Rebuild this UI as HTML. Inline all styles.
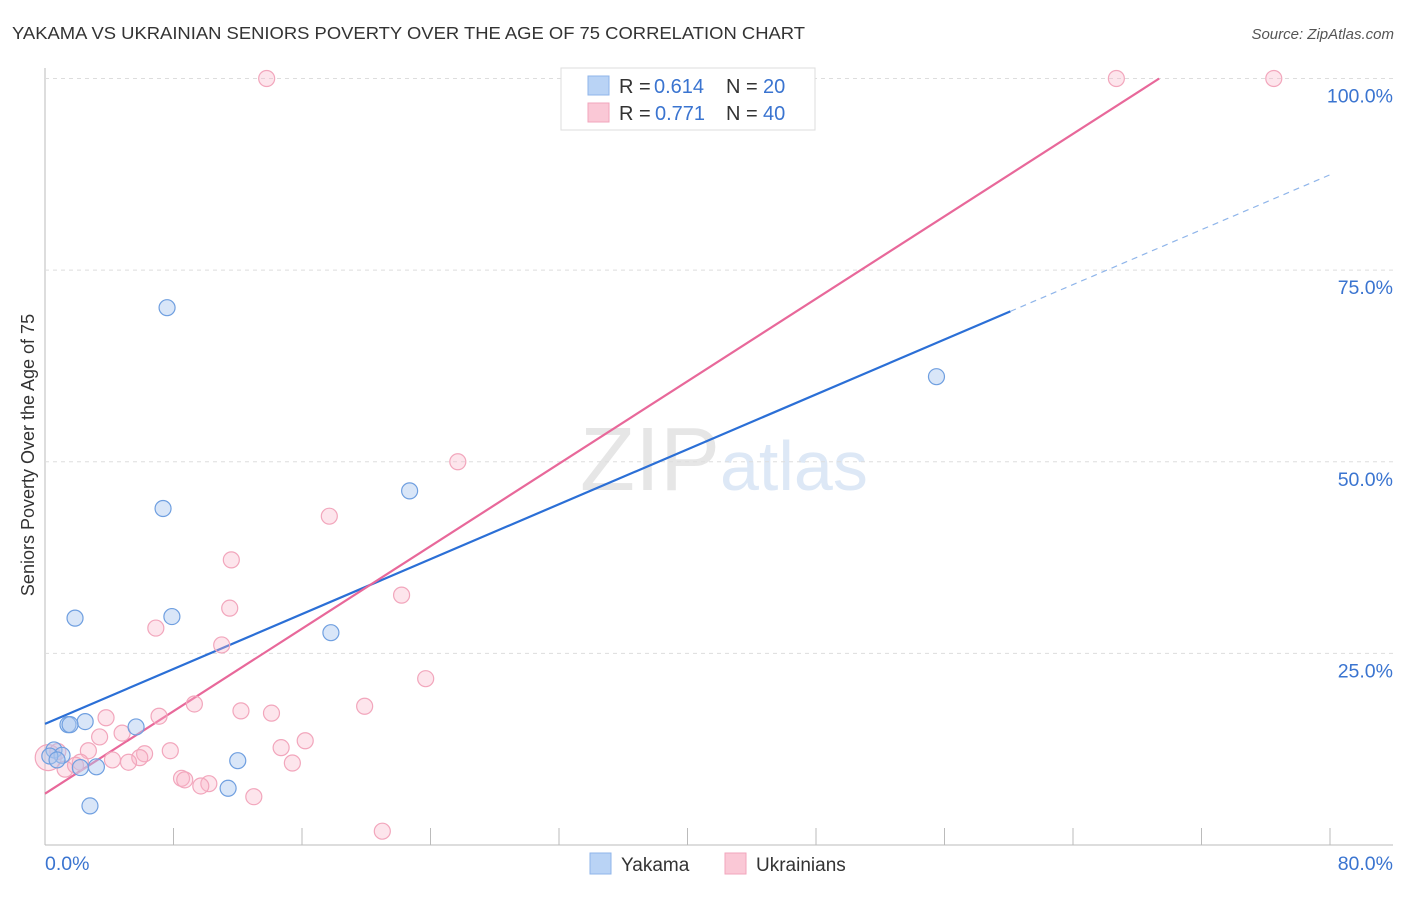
<!DOCTYPE html>
<html><head><meta charset="utf-8"><style>
body{margin:0;background:#fff;font-family:"Liberation Sans",sans-serif;}
svg text{font-family:"Liberation Sans",sans-serif;}
</style></head><body>
<svg id="c" width="1406" height="892">
<text x="12" y="39" font-size="17.5" fill="#333" textLength="793" lengthAdjust="spacingAndGlyphs">YAKAMA VS UKRAINIAN SENIORS POVERTY OVER THE AGE OF 75 CORRELATION CHART</text>
<text x="1394" y="39" font-size="15" fill="#555" text-anchor="end" font-style="italic">Source: ZipAtlas.com</text>
<text x="720" y="490" font-size="90" fill="#e6e6e6" text-anchor="end" font-family="Liberation Serif">ZIP</text>
<text x="720" y="490" font-size="70" fill="#dde8f6">atlas</text>
<text transform="translate(34,455) rotate(-90)" font-size="18" fill="#333" text-anchor="middle">Seniors Poverty Over the Age of 75</text>
<g id="grid"></g><g id="lines"></g><g id="pts"></g>
<g>
<rect x="561" y="68" width="254" height="62" fill="#fff" stroke="#ddd"/>
<rect x="588" y="76" width="21" height="19" fill="#b9d3f5" stroke="#8fb5ea"/>
<rect x="588" y="103" width="21" height="19" fill="#fac8d6" stroke="#f2a6bc"/>
<text y="93" font-size="20" fill="#333"><tspan x="619">R =</tspan><tspan x="654" fill="#3a74d0">0.614</tspan><tspan x="726">N =</tspan><tspan x="763" fill="#3a74d0">20</tspan></text>
<text y="120" font-size="20" fill="#333"><tspan x="619">R =</tspan><tspan x="655" fill="#3a74d0">0.771</tspan><tspan x="726">N =</tspan><tspan x="763" fill="#3a74d0">40</tspan></text>
</g>
<g>
<rect x="590" y="853" width="21" height="21" fill="#b9d3f5" stroke="#8fb5ea"/>
<text x="621" y="871" font-size="19" fill="#333">Yakama</text>
<rect x="725" y="853" width="21" height="21" fill="#fac8d6" stroke="#f2a6bc"/>
<text x="756" y="871" font-size="19" fill="#333">Ukrainians</text>
</g>
</svg>
<script>
const yTicks=[25,50,75,100];
const yTickLabels=["25.0%","50.0%","75.0%","100.0%"];
const xTicks=[0,8,16,24,32,40,48,56,64,72,80];
const yakamaX=[7.6,7.35,22.7,55.5,1.87,7.9,17.8,1.43,2.5,5.67,12.0,0.56,1.06,3.2,2.2,2.8,11.4,0.3,0.75,1.56];
const yakamaY=[70.1,43.9,46.2,61.1,29.6,29.8,27.7,15.7,16.1,15.4,11.0,12.4,11.7,10.2,10.1,5.1,7.4,11.6,11.1,15.7];
const ukrX=[13.8,36.7,66.7,76.5,25.7,17.7,11.6,11.5,22.2,6.9,11.0,23.7,9.3,12.2,14.1,19.9,7.1,3.8,3.4,4.8,16.2,14.7,7.8,2.7,6.2,5.9,5.2,4.2,15.4,8.5,8.7,10.2,9.7,13.0,21.0,2.2,1.25,0.2,0.8,1.9];
const ukrY=[100,100,100,100,50,42.9,37.2,30.9,32.6,28.3,26.1,21.7,18.4,17.5,17.2,18.1,16.8,16.6,14.1,14.6,13.6,12.7,12.3,12.3,11.9,11.4,10.8,11.1,10.7,8.7,8.5,8.0,7.7,6.3,1.8,10.8,9.9,11.4,12.2,10.4];
const yakTrend=[15.8,0.8955];
const ukrTrend=[6.7,1.345];
const X=v=>45+v*1285/80, Y=v=>845-v*7.665;
const NS="http://www.w3.org/2000/svg";
function mk(p,t,a){const e=document.createElementNS(NS,t);for(const k in a)e.setAttribute(k,a[k]);document.getElementById(p).appendChild(e);return e;}
let e;
e=mk('grid','line',{x1:45,x2:1393,y1:845,y2:845,stroke:'#bbb'});


e=mk('grid','line',{x1:45,x2:45,y1:68,y2:845,stroke:'#bbb'});


yTicks.forEach((t,i)=>{
 e=mk('grid','line',{x1:45,x2:1393,y1:Y(t),y2:Y(t),stroke:'#ddd','stroke-dasharray':'4,4'});
 
 
 e=mk('grid','text',{x:1393,y:Y(t)+24,'font-size':19.5,fill:'#3a74d0','text-anchor':'end'});e.textContent=yTickLabels[i];
 
 
});
xTicks.forEach(t=>{
 e=mk('grid','line',{x1:X(t),x2:X(t),y1:828,y2:845,stroke:'#bbb'});
 
 
});
e=mk('grid','text',{x:45,y:870,'font-size':19.5,fill:'#3a74d0'});e.textContent='0.0%';


e=mk('grid','text',{x:1393,y:870,'font-size':19.5,fill:'#3a74d0','text-anchor':'end'});e.textContent='80.0%';


ukrX.forEach((x,i)=>{
 e=mk('pts','circle',{cx:X(x),cy:Y(ukrY[i]),r:i==37?13:8,fill:'rgba(248,180,200,0.35)',stroke:'#f2a6bc','stroke-width':1.2});
 
 
});
yakamaX.forEach((x,i)=>{
 e=mk('pts','circle',{cx:X(x),cy:Y(yakamaY[i]),r:8,fill:'rgba(170,200,240,0.45)',stroke:'#6f9fe0','stroke-width':1.2});
 
 
});
const bx=60.1;
e=mk('lines','line',{x1:X(0),y1:Y(yakTrend[0]),x2:X(bx),y2:Y(yakTrend[0]+yakTrend[1]*bx),stroke:'#2b6fd6','stroke-width':2.2});


e=mk('lines','line',{x1:X(bx),y1:Y(yakTrend[0]+yakTrend[1]*bx),x2:X(80),y2:Y(yakTrend[0]+yakTrend[1]*80),stroke:'#8fb5ea','stroke-width':1.2,'stroke-dasharray':'6,5'});


const ux=(100-ukrTrend[0])/ukrTrend[1];
e=mk('lines','line',{x1:X(0),y1:Y(ukrTrend[0]),x2:X(ux),y2:Y(100),stroke:'#e8689a','stroke-width':2.2});


</script>
</body></html>
